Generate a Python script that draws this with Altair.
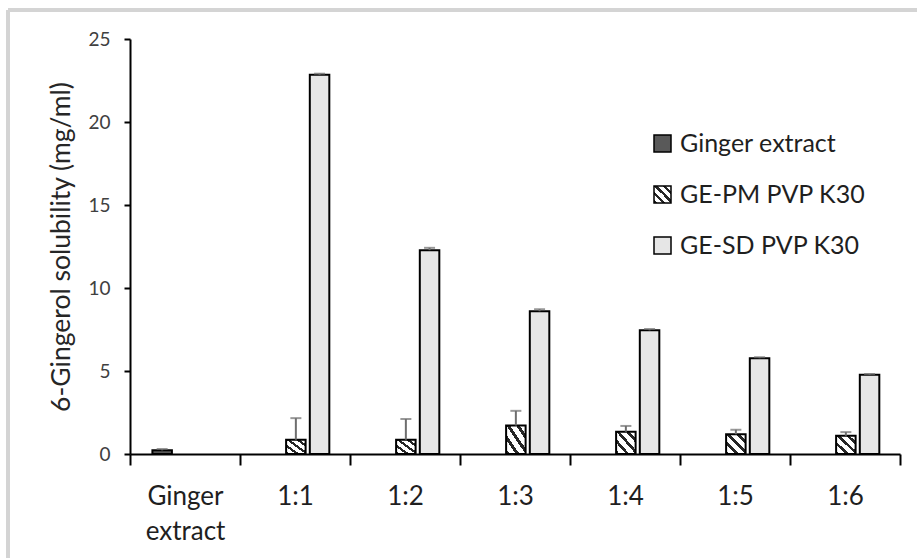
import altair as alt
import pandas as pd

# ---------------- data ----------------
categories = ["Ginger extract", "1:1", "1:2", "1:3", "1:4", "1:5", "1:6"]
series = ["Ginger extract", "GE-PM PVP K30", "GE-SD PVP K30"]

ginger_extract = [0.22, None, None, None, None, None, None]
ginger_extract_err = [0.08, None, None, None, None, None, None]
ge_pm = [None, 0.86, 0.86, 1.72, 1.34, 1.19, 1.10]
ge_pm_err = [None, 1.30, 1.25, 0.88, 0.35, 0.27, 0.22]
ge_sd = [None, 22.85, 12.28, 8.60, 7.45, 5.77, 4.78]
ge_sd_err = [None, 0.06, 0.14, 0.12, 0.08, 0.06, 0.04]

y_ticks = [0, 5, 10, 15, 20, 25]

rows = []
for name, vals, errs in zip(series, [ginger_extract, ge_pm, ge_sd],
                            [ginger_extract_err, ge_pm_err, ge_sd_err]):
    for cat, v, e in zip(categories, vals, errs):
        if v is None:
            continue
        rows.append({"category": cat, "series": name, "value": v,
                     "upper": v + (e or 0)})
df = pd.DataFrame(rows)

# ---------------- styles ----------------
def hatch_expr(periods=4, dark=0.38, color="#262626"):
    stops = []
    for k in range(periods):
        a = k / periods
        b = a + dark / periods
        c = (k + 1) / periods
        stops += [(a, color), (b, color), (b, "#ffffff"), (c, "#ffffff")]
    s = ",".join("{offset:%0.4f,color:'%s'}" % (o, c) for o, c in stops)
    return "{gradient:'linear',x1:0,y1:1,x2:1,y2:0,stops:[%s]}" % s

fill_range = ["#595959", alt.ExprRef(hatch_expr()), "#e6e6e6"]
FONT = "Lato"

x_enc = alt.X("category:N", sort=categories,
              scale=alt.Scale(paddingInner=0, paddingOuter=0),
              axis=alt.Axis(title=None, labelAngle=0, tickBand="extent",
                            domainColor="black", domainWidth=2,
                            tickColor="black", tickWidth=2, tickSize=11,
                            labelFontSize=26, labelColor="#1f1f1f",
                            labelFont=FONT, labelPadding=18,
                            labelExpr="split(datum.label, ' ')",
                            labelLineHeight=35, labelBaseline="top"))
xo_enc = alt.XOffset("series:N", sort=series,
                     scale=alt.Scale(domain=series, paddingInner=0.177,
                                     paddingOuter=0.909, align=0.52))
y_title = "6-Gingerol solubility (mg/ml)"
y_axis = alt.Axis(values=y_ticks, grid=False, title=y_title,
                  domainColor="black", domainWidth=2, tickColor="black",
                  tickWidth=2, tickSize=6, labelFontSize=19,
                  labelColor="#404040", labelFont=FONT, labelPadding=14,
                  titleFont=FONT, titleFontSize=26.5, titleFontWeight="normal",
                  titleColor="#262626", titlePadding=12)
y_scale = alt.Scale(domain=[0, 25], nice=False)

base = alt.Chart(df)

bars = base.mark_bar(stroke="black", strokeWidth=2).encode(
    x=x_enc, xOffset=xo_enc,
    y=alt.Y("value:Q", scale=y_scale, axis=y_axis),
    fill=alt.Fill("series:N", sort=series,
                  scale=alt.Scale(domain=series, range=fill_range),
                  legend=alt.Legend(title=None, orient="none",
                                    legendX=520, legendY=92,
                                    symbolType="square", symbolSize=289,
                                    symbolStrokeColor="black",
                                    symbolStrokeWidth=1.5,
                                    labelFont=FONT, labelFontSize=25,
                                    labelColor="#1f1f1f", labelOffset=5,
                                    rowPadding=25, labelLimit=400)),
)

err_rule = base.mark_rule(color="#6e6e6e", strokeWidth=2).encode(
    x=x_enc, xOffset=xo_enc,
    y=alt.Y("value:Q", scale=y_scale, axis=y_axis), y2="upper:Q")

err_cap = base.mark_tick(color="#6e6e6e", thickness=2, size=11).encode(
    x=x_enc, xOffset=xo_enc,
    y=alt.Y("upper:Q", scale=y_scale, axis=y_axis))

# light frame of the original figure (decoration)
frame_top = alt.Chart(df).mark_rule(color="#d4d4d4", strokeWidth=3).encode(
    x=alt.value(-122), x2=alt.value(790), y=alt.value(-29))
frame_left = alt.Chart(df).mark_rule(color="#d4d4d4", strokeWidth=3).encode(
    x=alt.value(-122), y=alt.value(-29), y2=alt.value(525))

chart = alt.layer(frame_top, frame_left, bars, err_rule, err_cap).properties(
    width=770, height=415,
    autosize=alt.AutoSizeParams(type="none"),
    padding={"left": 130, "top": 39, "right": 17, "bottom": 104},
    background="white",
).configure_view(stroke=None)

chart.save("out.html", embed_options={"renderer": "svg", "actions": False})
